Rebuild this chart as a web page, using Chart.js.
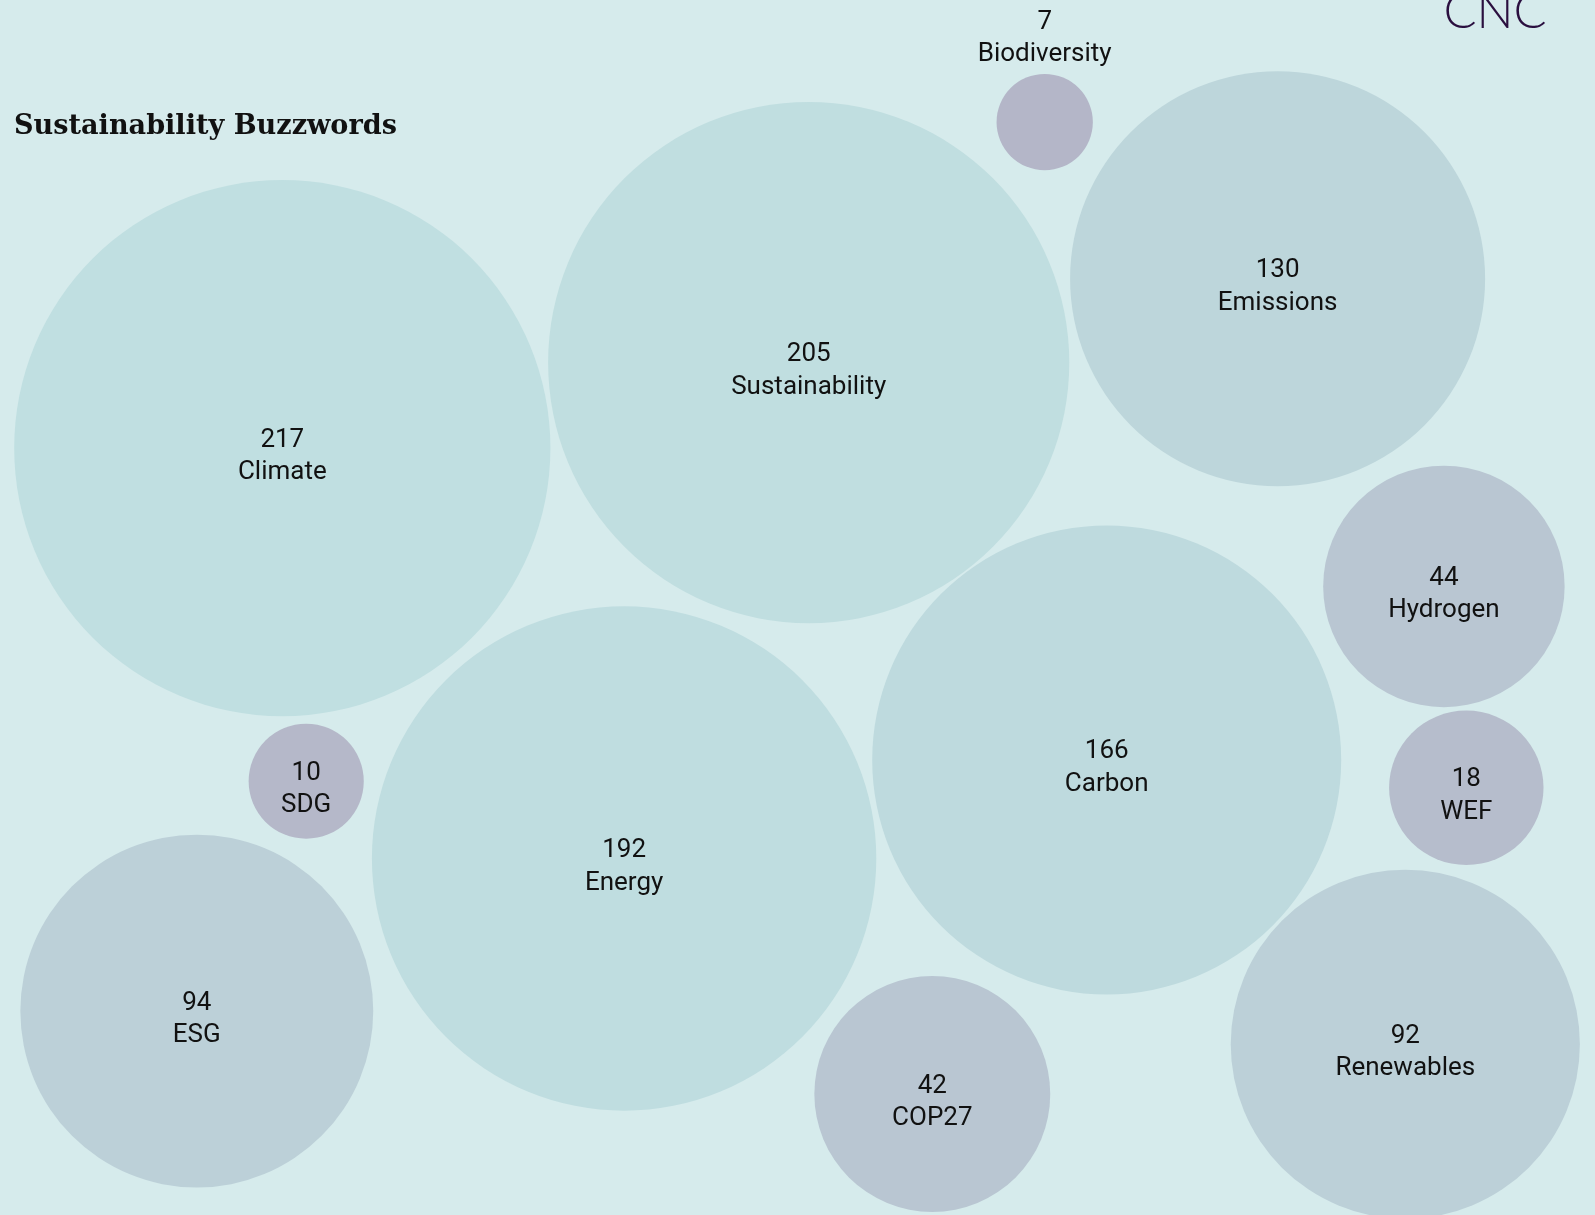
<!DOCTYPE html>
<html>
<head>
<meta charset="utf-8">
<script src="https://cdn.jsdelivr.net/npm/chart.js@4.4.0/dist/chart.umd.min.js"></script>
<style>
  html, body { margin: 0; padding: 0; background: #d6ebec; overflow: hidden; }
  #wrap { width: 1595px; height: 1215px; }
</style>
</head>
<body>
<div id="wrap"><canvas id="c" width="1595" height="1215"></canvas></div>
<script>
// ---- data ----
const categories = ["Climate", "Sustainability", "Biodiversity", "Emissions", "Hydrogen", "WEF", "Carbon", "SDG", "Energy", "ESG", "COP27", "Renewables"];
const counts     = [217, 205, 7, 130, 44, 18, 166, 10, 192, 94, 42, 92];
// bubble centres in layout units (packed layout)
const centerX    = [282.3, 808.7, 1044.7, 1277.6, 1443.9, 1466.3, 1106.7, 306.2, 624.1, 196.8, 932.3, 1405.3];
const centerY    = [448.1, 362.6, 122.1, 278.7, 586.4, 787.8, 759.9, 781.2, 858.5, 1011.1, 1094.0, 1044.2];
const titleText  = "Sustainability Buzzwords";
const logoText   = "CNC";

// ---- styling helpers ----
const W = 1595, H = 1215;
const RADIUS_K = 18.2;                 // px per sqrt(count)
const lowCol = [180, 182, 200], highCol = [192, 223, 225];
const vMin = Math.min(...counts), vMax = Math.max(...counts);
function colorFor(v) {
  const t = (Math.cbrt(v) - Math.cbrt(vMin)) / (Math.cbrt(vMax) - Math.cbrt(vMin));
  const c = lowCol.map((a, i) => Math.round(a + (highCol[i] - a) * t));
  return `rgb(${c[0]},${c[1]},${c[2]})`;
}

const points = categories.map((name, i) => ({
  x: centerX[i], y: centerY[i], r: RADIUS_K * Math.sqrt(counts[i]), name, v: counts[i]
}));

const bgPlugin = {
  id: 'bg',
  beforeDraw(chart) {
    const ctx = chart.ctx;
    ctx.save();
    ctx.fillStyle = '#d6ebec';
    ctx.fillRect(0, 0, chart.width, chart.height);
    ctx.restore();
  }
};

const labelPlugin = {
  id: 'labels',
  afterDatasetsDraw(chart) {
    const ctx = chart.ctx;
    const xs = chart.scales.x, ys = chart.scales.y;
    ctx.save();
    ctx.fillStyle = '#111111';
    ctx.textAlign = 'center';
    ctx.textBaseline = 'middle';
    ctx.font = '26px Roboto';
    points.forEach(p => {
      const px = xs.getPixelForValue(p.x);
      const py = ys.getPixelForValue(p.y);
      if (p.r < 50) {
        const top = py - p.r;
        ctx.fillText(String(p.v), px, top - 51);
        ctx.fillText(p.name, px, top - 19);
      } else {
        ctx.fillText(String(p.v), px, py - 8);
        ctx.fillText(p.name, px, py + 24.5);
      }
    });
    // title
    ctx.textAlign = 'left';
    ctx.textBaseline = 'alphabetic';
    ctx.fillStyle = '#111111';
    let fs = 30;
    ctx.font = `bold ${fs}px "DejaVu Serif"`;
    const w = ctx.measureText(titleText).width;
    fs = fs * 383 / w;
    ctx.font = `bold ${fs}px "DejaVu Serif"`;
    ctx.fillText(titleText, 14, 134);
    // logo
    ctx.fillStyle = '#2a0f3f';
    ctx.textAlign = 'center';
    ctx.font = '300 49px Lato';
    ctx.fillText(logoText, 1495, 28);
    ctx.restore();
  }
};

new Chart(document.getElementById('c'), {
  type: 'bubble',
  data: {
    datasets: [{
      data: points,
      backgroundColor: points.map(p => colorFor(p.v)),
      borderWidth: 0,
      hoverBorderWidth: 0,
      hoverRadius: 0
    }]
  },
  options: {
    responsive: false,
    animation: false,
    events: [],
    layout: { padding: 0, autoPadding: false },
    clip: false,
    scales: {
      x: { type: 'linear', min: 0, max: W, display: false },
      y: { type: 'linear', min: 0, max: H, reverse: true, display: false }
    },
    plugins: { legend: { display: false }, tooltip: { enabled: false } }
  },
  plugins: [bgPlugin, labelPlugin]
});
</script>
</body>
</html>
